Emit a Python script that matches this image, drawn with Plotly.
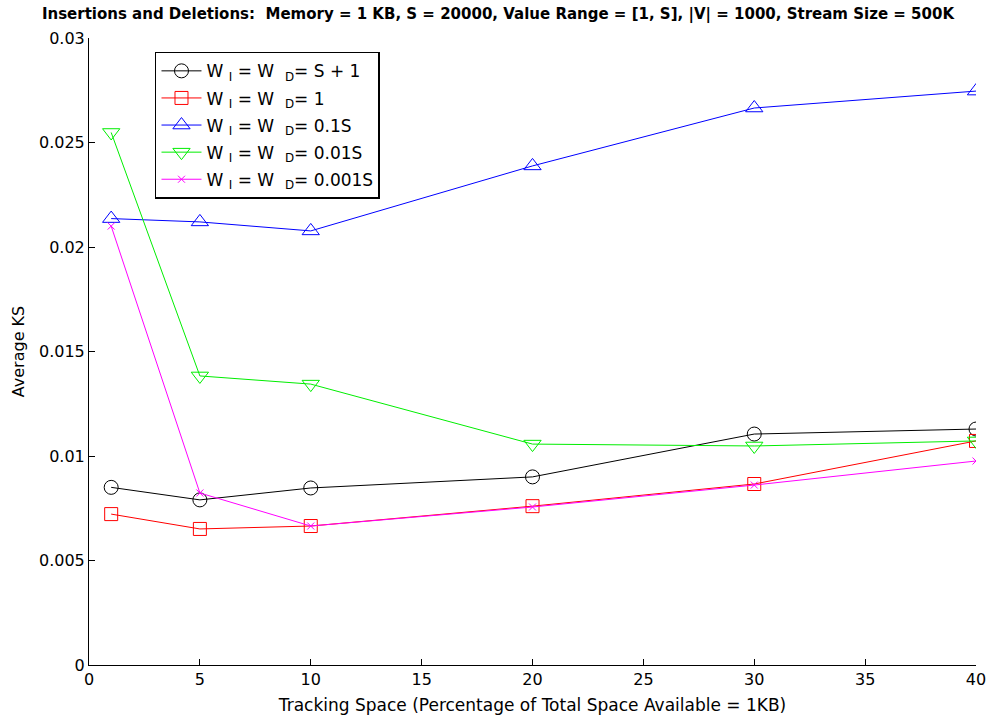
import plotly.graph_objects as go

# Tracking space (% of 1 KB) on the x axis
tracking_space = [1, 5, 10, 20, 30, 40]

# Average KS for each window setting
ks_s_plus_1 = [0.0085, 0.0079, 0.00847, 0.0090, 0.01105, 0.01129]
ks_one = [0.00722, 0.00651, 0.00665, 0.0076, 0.00866, 0.01072]
ks_0_1s = [0.02136, 0.0212, 0.02077, 0.02388, 0.02665, 0.02746]
ks_0_01s = [0.02548, 0.01383, 0.01344, 0.01057, 0.01048, 0.01072]
ks_0_001s = [0.0210, 0.00823, 0.00665, 0.00756, 0.00861, 0.00976]

series_names = [
    "W <sub>I</sub> = W  <sub>D</sub>= S + 1",
    "W <sub>I</sub> = W  <sub>D</sub>= 1",
    "W <sub>I</sub> = W  <sub>D</sub>= 0.1S",
    "W <sub>I</sub> = W  <sub>D</sub>= 0.01S",
    "W <sub>I</sub> = W  <sub>D</sub>= 0.001S",
]
series_values = [ks_s_plus_1, ks_one, ks_0_1s, ks_0_01s, ks_0_001s]
series_colors = ["#000000", "#ff0000", "#0000ff", "#00ee00", "#ff00ff"]
series_symbols = ["circle-open", "square-open", "triangle-up-open",
                  "triangle-down-open", "x-thin-open"]
series_sizes = [14, 13, 15, 15, 7]

y_ticks = [0, 0.005, 0.01, 0.015, 0.02, 0.025, 0.03]
y_tick_text = ["0", "0.005", "0.01", "0.015", "0.02", "0.025", "0.03"]
x_ticks = [0, 5, 10, 15, 20, 25, 30, 35, 40]

font_family = "DejaVu Sans, Liberation Sans, Arial, sans-serif"

fig = go.Figure()
for i, (name, vals, color, sym, size) in enumerate(zip(
        series_names, series_values, series_colors, series_symbols,
        series_sizes)):
    fig.add_trace(go.Scatter(
        x=tracking_space, y=vals, name=name, mode="lines+markers",
        legendgroup=f"g{i}",
        line=dict(color=color, width=1),
        marker=dict(symbol=sym, size=size, color=color,
                    line=dict(color=color, width=1)),
    ))

fig.update_layout(
    width=990, height=719,
    margin=dict(l=89, r=14, t=38, b=54),
    paper_bgcolor="white", plot_bgcolor="white",
    font=dict(family=font_family, size=16, color="black"),
    title=dict(
        text="<b>Insertions and Deletions:  Memory = 1 KB, S = 20000, Value Range = [1, S], |V| = 1000, Stream Size = 500K</b>",
        x=0.503, xanchor="center", y=0.981, yanchor="middle",
        font=dict(family=font_family, size=15, color="black"),
    ),
    xaxis=dict(
        range=[0, 40], tickvals=x_ticks, ticks="inside", ticklen=6,
        showline=True, linecolor="black", linewidth=1, tickcolor="black",
        showgrid=False, zeroline=False, mirror=False, automargin=False,
        title=dict(text="Tracking Space (Percentage of Total Space Available = 1KB)",
                   standoff=10, font=dict(size=17)),
        tickfont=dict(size=16),
    ),
    yaxis=dict(
        range=[0, 0.03], tickvals=y_ticks, ticktext=y_tick_text,
        ticks="inside", ticklen=6,
        showline=True, linecolor="black", linewidth=1, tickcolor="black",
        showgrid=False, zeroline=False, mirror=False, automargin=False,
        title=dict(text="Average KS", standoff=10, font=dict(size=16)),
        tickfont=dict(size=16),
    ),
    legend=dict(
        x=0.0744, y=0.978, xanchor="left", yanchor="top",
        bordercolor="black", borderwidth=1.5, bgcolor="white",
        font=dict(size=17), itemwidth=40, tracegroupgap=2,
    ),
    showlegend=True,
)

fig.write_html("out.html")
